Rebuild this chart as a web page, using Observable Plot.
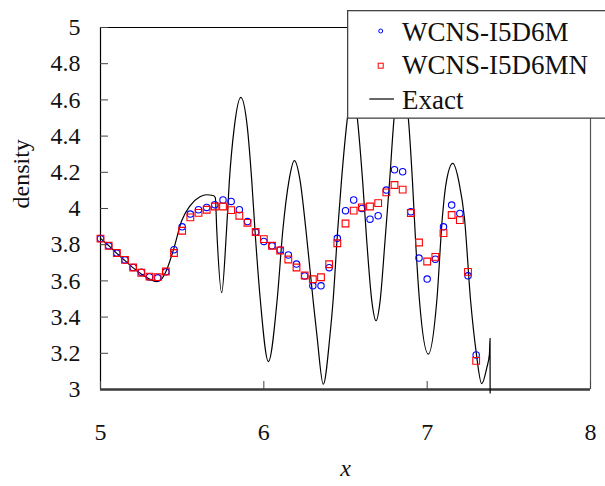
<!DOCTYPE html>
<html><head><meta charset="utf-8">
<script src="https://cdn.jsdelivr.net/npm/d3@7"></script>
<script src="https://cdn.jsdelivr.net/npm/@observablehq/plot@0.6"></script>
<style>
body{margin:0;background:#fff;}
#wrap{position:relative;width:605px;height:486px;overflow:hidden;background:#fff;}
#wrap svg text{font-family:"Liberation Serif","Times New Roman",serif;}
</style></head><body><div id="wrap"></div>
<script>
const seriesNames = ["WCNS-I5D6M", "WCNS-I5D6MN", "Exact"];
const xTicks = [5, 6, 7, 8];
const yTicks = [3, 3.2, 3.4, 3.6, 3.8, 4, 4.2, 4.4, 4.6, 4.8, 5];
const xLabel = "x";
const yLabel = "density";

const markerX = [5.00,5.05,5.10,5.15,5.20,5.25,5.30,5.35,5.40,5.45,5.50,5.55,5.60,5.65,5.70,5.75,5.80,5.85,5.90,5.95,
  6.00,6.05,6.10,6.15,6.20,6.25,6.30,6.35,6.40,6.45,6.50,6.55,6.60,6.65,6.70,6.75,6.80,6.85,6.90,6.95,
  7.00,7.05,7.10,7.15,7.20,7.25,7.30];
const seriesM = [3.834,3.794,3.754,3.716,3.674,3.648,3.622,3.617,3.650,3.772,3.899,3.969,3.993,4.006,4.021,4.047,4.039,3.993,3.928,3.869,
  3.818,3.794,3.771,3.743,3.693,3.627,3.573,3.573,3.673,3.835,3.988,4.047,4.000,3.941,3.960,4.102,4.214,4.203,3.982,3.726,
  3.610,3.720,3.899,4.019,3.973,3.628,3.191];
const seriesMN = [3.834,3.794,3.754,3.716,3.674,3.645,3.624,3.621,3.652,3.754,3.877,3.951,3.976,3.993,4.011,4.011,3.991,3.960,3.921,3.870,
  3.831,3.794,3.768,3.718,3.674,3.630,3.609,3.620,3.692,3.808,3.917,3.988,4.006,4.011,4.030,4.089,4.130,4.104,3.975,3.812,
  3.707,3.733,3.864,3.964,3.936,3.650,3.158];

const exactX = [5.000,5.050,5.100,5.150,5.200,5.250,5.300,5.344,5.370,5.400,5.446,5.497,5.548,5.609,5.650,5.690,5.703,5.712,5.742,5.771,
  5.789,5.819,5.859,5.899,5.926,5.946,5.977,6.028,6.083,6.116,6.154,6.187,6.222,6.258,6.302,6.325,6.364,6.405,6.424,6.452,
  6.475,6.511,6.542,6.573,6.605,6.630,6.661,6.687,6.712,6.742,6.770,6.797,6.840,6.885,6.910,6.929,6.953,7.007,7.059,7.093,
  7.115,7.157,7.197,7.228,7.266,7.299,7.334,7.365,7.381,7.385,7.3855];
const exactY = [3.835,3.795,3.752,3.712,3.672,3.638,3.610,3.596,3.606,3.650,3.770,3.932,4.015,4.065,4.076,4.072,4.060,3.877,3.535,3.870,
  4.154,4.448,4.614,4.448,4.154,3.877,3.510,3.154,3.510,3.877,4.154,4.264,4.154,3.880,3.490,3.300,3.029,3.300,3.490,3.877,
  4.150,4.495,4.690,4.495,4.150,3.822,3.490,3.380,3.490,3.822,4.150,4.495,4.720,4.495,4.150,3.822,3.490,3.195,3.490,3.950,
  4.135,4.249,4.135,3.950,3.490,3.213,3.032,3.120,3.195,3.283,2.980];

const dataM = markerX.map((x, i) => ({x, y: seriesM[i]}));
const dataMN = markerX.map((x, i) => ({x, y: seriesMN[i]}));
const exact = exactX.map((x, i) => ({x, y: exactY[i]}));

const font = '"Liberation Serif","Times New Roman",serif';

const chart = Plot.plot({
  width: 605, height: 486,
  marginLeft: 100, marginRight: 15, marginTop: 27, marginBottom: 97,
  x: {domain: [5, 8]},
  y: {domain: [3, 5]},
  style: {fontFamily: font, fontSize: "24px", background: "#fff", color: "#000"},
  marks: [
    Plot.ruleY([5], {stroke: "#000", strokeWidth: 1.2}),
    Plot.ruleX([8], {stroke: "#555", strokeWidth: 1.2}),
    Plot.ruleX([5], {stroke: "#000", strokeWidth: 1.2}),
    Plot.axisY({ticks: yTicks, tickSize: 8, dx: 8, tickPadding: 20, tickFormat: d => String(d),
      stroke: "#444", fill: "#111", fontSize: 24, fontFamily: font, fontVariant: "normal", label: null}),
    Plot.axisX({ticks: xTicks, tickSize: 8, dy: -8, tickPadding: 33, tickFormat: d => String(d),
      stroke: "#444", fill: "#111", fontSize: 24, fontFamily: font, fontVariant: "normal", label: null}),
    Plot.ruleY([3], {stroke: "#3a3a3a", strokeWidth: 2.5}),
    Plot.line(exact, {x: "x", y: "y", curve: "monotone-x", stroke: "#000", strokeWidth: 1.2}),
    Plot.dot(dataM, {x: "x", y: "y", r: 3.2, stroke: "#0000ff", strokeWidth: 1.1, fill: "none"}),
    Plot.dot(dataMN, {x: "x", y: "y", symbol: "square", r: 3.8, stroke: "#ff0000", strokeWidth: 1.1, fill: "none"}),
    Plot.text([yLabel], {text: d => d, frameAnchor: "left", dx: -79, rotate: -90, fontSize: 24, fontFamily: font, fill: "#111"}),
    Plot.text([xLabel], {text: d => d, frameAnchor: "bottom", dy: 86, fontStyle: "italic", fontSize: 24, fontFamily: font, fill: "#111"})
  ]
});
const wrap = document.getElementById("wrap");
wrap.appendChild(chart);

// legend box overlay
const lg = d3.select(wrap).append("svg")
  .attr("width", 262).attr("height", 112)
  .style("position", "absolute").style("left", "347px").style("top", "10px")
  .style("font-family", font);
lg.append("rect").attr("x", 0.65).attr("y", 0.65).attr("width", 300).attr("height", 107.5)
  .attr("fill", "#fff").attr("stroke", "#444").attr("stroke-width", 1.3);
lg.append("circle").attr("cx", 33.7).attr("cy", 21).attr("r", 2).attr("fill", "none").attr("stroke", "#0000ff").attr("stroke-width", 1);
lg.append("rect").attr("x", 31.2).attr("y", 53.2).attr("width", 5).attr("height", 5).attr("fill", "none").attr("stroke", "#ff0000").attr("stroke-width", 1);
lg.append("line").attr("x1", 22.3).attr("x2", 47).attr("y1", 89).attr("y2", 89).attr("stroke", "#000").attr("stroke-width", 1.2);
const baselines = [30.7, 64, 99.3];
seriesNames.forEach((n, i) => {
  lg.append("text").attr("x", 55).attr("y", baselines[i]).attr("font-size", 27).attr("fill", "#111").text(n);
});
</script></body></html>
